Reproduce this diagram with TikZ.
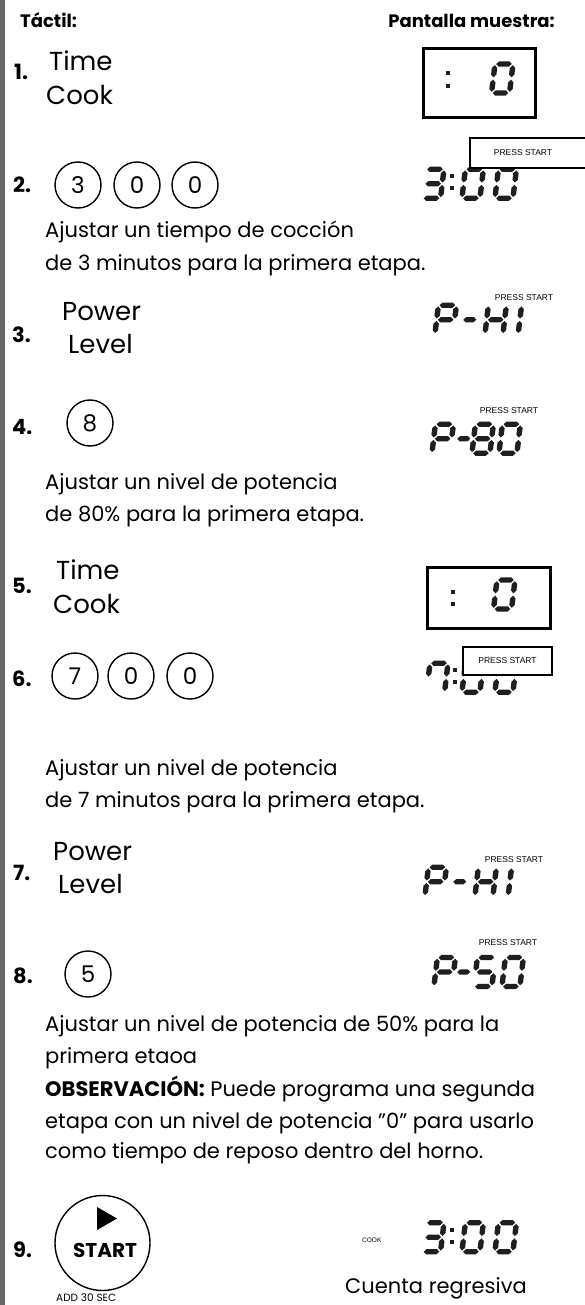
\documentclass[tikz,border=0pt]{standalone}
\usepackage{fontspec}
\setmainfont{Poppins}
\newfontfamily\arialf{Liberation Sans}
\newcommand\hseg[3]{\fill[seg] (#1,#3) -- ({#1+2.7},{#3-2.7}) -- ({#2-2.7},{#3-2.7}) -- (#2,#3) -- ({#2-2.7},{#3+2.7}) -- ({#1+2.7},{#3+2.7}) -- cycle;}
\newcommand\vseg[3]{\fill[seg] (#1,#2) -- ({#1+2.7},{#2+2.7}) -- ({#1+2.7},{#3-2.7}) -- (#1,#3) -- ({#1-2.7},{#3-2.7}) -- ({#1-2.7},{#2+2.7}) -- cycle;}
\newcommand\lcdsega{\hseg{1.2}{16.8}{0}}
\newcommand\lcdsegb{\vseg{18}{1.2}{13.3}}
\newcommand\lcdsegc{\vseg{18}{15.7}{27.8}}
\newcommand\lcdsegd{\hseg{1.2}{16.8}{29}}
\newcommand\lcdsege{\vseg{0}{15.7}{27.8}}
\newcommand\lcdsegf{\vseg{0}{1.2}{13.3}}
\newcommand\lcdsegg{\hseg{1.2}{16.8}{14.5}}
\newcommand\lcd[3]{\begin{scope}[shift={(#1,#2)},xslant=0.12]\foreach \s in {#3}{\csname lcdseg\s\endcsname}\end{scope}}
\newcommand\lcddash[2]{\begin{scope}[shift={(#1,#2)},xslant=0.12]\hseg{0}{13}{14.5}\end{scope}}
\newcommand\lcdcolon[3]{\fill[seg] ({#1-2},{#2-2}) rectangle ({#1+2},{#2+2}); \fill[seg] ({#1-2},{#3-2}) rectangle ({#1+2},{#3+2});}
\tikzset{
  seg/.style={fill=black!88},
  body/.style={anchor=base west, inner sep=0pt, font=\fontsize{21}{23}\selectfont},
  big/.style={anchor=base west, inner sep=0pt, font=\fontsize{26}{28}\selectfont},
  num/.style={anchor=base west, inner sep=0pt, font=\fontsize{21}{22}\selectfont\bfseries},
  head/.style={anchor=base west, inner sep=0pt, font=\fontsize{18}{20}\selectfont\bfseries},
  key/.style={circle, draw, line width=1.4pt, minimum size=46pt, inner sep=0pt, font=\fontsize{23}{24}\selectfont},
  lcdbox/.style={draw, line width=3pt, fill=white},
  pressbox/.style={draw, line width=2.5pt, fill=white},
  press/.style={inner sep=0pt, font=\arialf\fontsize{8.5}{9}\selectfont},
}
\begin{document}
\begin{tikzpicture}[x=1pt,y=-1pt]
\useasboundingbox (0,0) rectangle (584,1305);
\fill[black!60] (0,0) rectangle (5,1305);
% headers
\node[head] (h1) at (20,28) {Táctil:};
\node[head, anchor=base east] (h2) at (555,28) {Pantalla muestra:};
% step 1
\node[num] (n1) at (14,80) {1.};
\node[big] (t1) at (49,71) {Time};
\node[big] (c1) at (46,105) {Cook};
\draw[lcdbox] (423,49) rectangle (535,118);
\lcdcolon{448}{73}{86}
\lcd{495}{64}{a,b,c,d,e,f}
% step 2
\node[num] (n2) at (13,193) {2.};
\node[key] (k3) at (78,185) {3};
\node[key] (k0a) at (137,185) {0};
\node[key] (k0b) at (195,185) {0};
\lcd{426}{169.25}{a,b,c,d,g}
\lcdcolon{452}{176}{188}
\lcd{465.4}{169.25}{a,b,c,d,e,f}
\lcd{498.4}{169.25}{a,b,c,d,e,f}
\draw[pressbox] (470,138) rectangle (590,168);
\node[press] (p2) at (523,153) {PRESS START};
\node[body] (d1) at (45,238) {Ajustar un tiempo de cocción};
\node[body] (d2) at (45,271) {de 3 minutos para la primera etapa.};
% step 3
\node[num] (n3) at (12,342) {3.};
\node[big] (pw3) at (62,320) {Power};
\node[big] (lv3) at (68,353) {Level};
\node[press] (p3) at (524,298) {PRESS START};
\lcd{438.4}{305.25}{a,b,e,f,g}
\lcddash{465}{305.25}
\lcd{488.4}{305.25}{b,c,e,f,g}
\lcd{521.6}{305.25}{e,f}
% step 4
\node[num] (n4) at (12,434) {4.};
\node[key] (k8) at (90,423) {8};
\node[press] (p4) at (509,411) {PRESS START};
\lcd{435.4}{424.25}{a,b,e,f,g}
\lcddash{459}{424.25}
\lcd{475.4}{424.25}{a,b,c,d,e,f,g}
\lcd{502.4}{424.25}{a,b,c,d,e,f}
\node[body] (d3) at (45,489) {Ajustar un nivel de potencia};
\node[body] (d4) at (45,521) {de 80\% para la primera etapa.};
% step 5
\node[num] (n5) at (12,593) {5.};
\node[big] (t5) at (56,579) {Time};
\node[big] (c5) at (53,613) {Cook};
\draw[lcdbox] (427,567) rectangle (550,628);
\lcdcolon{453}{592}{604}
\lcd{497}{580}{a,b,c,d,e,f}
% step 6
\node[num] (n6) at (12,686) {6.};
\node[key] (k7) at (75,676) {7};
\node[key] (k0c) at (131,676) {0};
\node[key] (k0d) at (190,676) {0};
\lcd{430}{663.25}{a,b,c,f}
\lcdcolon{455}{670}{682}
\lcd{465.4}{663.25}{a,b,c,d,e,f}
\lcd{498.4}{663.25}{a,b,c,d,e,f}
\draw[pressbox] (463,647) rectangle (552,675);
\node[press] (p6) at (507.5,661) {PRESS START};
\node[body] (d5) at (45,775) {Ajustar un nivel de potencia};
\node[body] (d6) at (45,807) {de 7 minutos para la primera etapa.};
% step 7
\node[num] (n7) at (13,880) {7.};
\node[big] (pw7) at (53,860) {Power};
\node[big] (lv7) at (58,893) {Level};
\node[press] (p7) at (514,860) {PRESS START};
\lcd{428.4}{867.25}{a,b,e,f,g}
\lcddash{455}{867.25}
\lcd{478.4}{867.25}{b,c,e,f,g}
\lcd{511.6}{867.25}{e,f}
% step 8
\node[num] (n8) at (13,983) {8.};
\node[key] (k5) at (88,974) {5};
\node[press] (p8) at (508,943) {PRESS START};
\lcd{437.4}{957.5}{a,b,e,f,g}
\lcddash{459}{957.5}
\lcd{477.4}{957.5}{a,c,d,f,g}
\lcd{505.4}{957.5}{a,b,c,d,e,f}
\node[body] (d7) at (45,1031) {Ajustar un nivel de potencia de 50\% para la};
\node[body] (d8) at (45,1063) {primera etaoa};
\node[body] (d9) at (45,1096) {\textbf{OBSERVACIÓN:} Puede programa una segunda};
\node[body] (d10) at (45,1128) {etapa con un nivel de potencia "0" para usarlo};
\node[body] (d11) at (45,1158) {como tiempo de reposo dentro del horno.};
% step 9
\node[num] (n9) at (13,1257) {9.};
\node[circle, draw, line width=1.4pt, minimum size=95pt, inner sep=0pt] (st) at (102.5,1243) {};
\fill (97,1207) -- (117,1218.5) -- (97,1230) -- cycle;
\node[anchor=base, inner sep=0pt, font=\fontsize{20}{21}\selectfont\bfseries] (stt) at (105,1257) {START};
\node[anchor=base west, inner sep=0pt, font=\fontsize{10.5}{12}\selectfont] (add) at (56,1301) {ADD 30 SEC};
\node[anchor=west, inner sep=0pt, font=\arialf\fontsize{6.5}{7}\selectfont] (cook) at (362,1240) {COOK};
\lcd{426}{1222.7}{a,b,c,d,g}
\lcdcolon{452}{1230}{1242}
\lcd{465.4}{1222.7}{a,b,c,d,e,f}
\lcd{498.4}{1222.7}{a,b,c,d,e,f}
\node[body, anchor=base east] (cr) at (527,1293) {Cuenta regresiva};
\end{tikzpicture}
\end{document}
